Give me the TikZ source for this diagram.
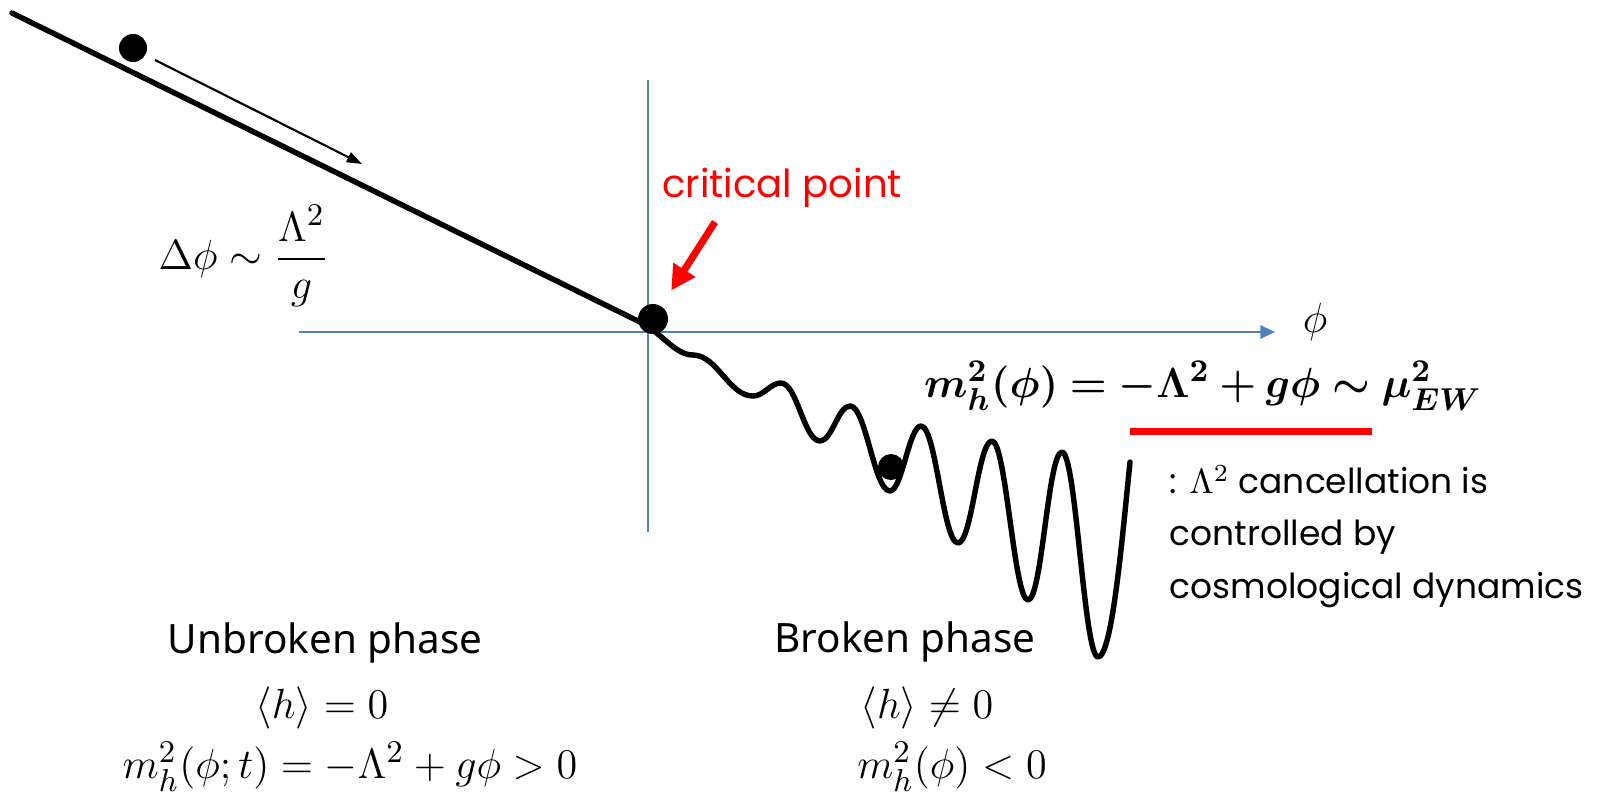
\documentclass[tikz,border=0pt]{standalone}
\usepackage[no-math]{fontspec}
\setmainfont{Noto Sans}
\newfontfamily\handfont{Poppins}
\usepackage{amsmath,bm}
\usetikzlibrary{arrows.meta}
\definecolor{axisblue}{RGB}{79,129,189}
\definecolor{critred}{RGB}{255,0,0}

\begin{document}
\begin{tikzpicture}[x=0.01cm,y=-0.01cm,
  pot/.style={line width=1.55pt,line join=round,line cap=round},
  ball/.style={circle,fill=black,inner sep=0pt,minimum size=#1},
  axis/.style={axisblue,line width=0.6pt},
  txt/.style={font=\fontsize{11.5}{14}\selectfont,inner sep=0pt},
  mathtxt/.style={font=\fontsize{12.5}{15}\selectfont,inner sep=0pt},
  hand/.style={font=\handfont\fontsize{11}{14.8}\selectfont,inner sep=0pt}]
\useasboundingbox (0,0) rectangle (1604,796);
% axes
\draw[axis,-{Triangle[length=4.2pt,width=3.8pt]}] (299,332) -- (1275,332);
\draw[axis] (648,80) -- (648,532);
\node[mathtxt] (phiLabel) at (1315,322) {$\phi$};
% potential: slope, then wiggles
\draw[pot] (12,13) -- (640,322)
  .. controls (662,333) and (675,355) .. (693,355)
  .. controls (717,355) and (729,396) .. (753,396)
  .. controls (764,396) and (770,383) .. (781,383)
  .. controls (797,383) and (804,441) .. (820,441)
  .. controls (832,441) and (838,406) .. (850,406)
  .. controls (866,406) and (874,491) .. (890,491)
  .. controls (902,491) and (909,426) .. (921,426)
  .. controls (936,426) and (943,543) .. (958,543)
  .. controls (972,543) and (978,441) .. (992,441)
  .. controls (1006,441) and (1014,600) .. (1028,600)
  .. controls (1042,600) and (1048,452) .. (1062,452)
  .. controls (1076,452) and (1084,657) .. (1098,657)
  .. controls (1112,657) and (1122,540) .. (1130,462);
% balls
\node[ball=0.28cm] (topBall) at (133,48) {};
\node[ball=0.3cm] (crit) at (653,319) {};
\node[ball=0.26cm] (trapBall) at (891,467) {};
% rolling arrow
\coordinate (rollStart) at (155,60);
\coordinate (rollEnd) at (362,164);
\draw[line width=0.6pt,-{Triangle[length=4.3pt,width=3pt]}] (rollStart) -- (rollEnd);
% critical point
\node[hand,critred,anchor=base] (critLabel) at (782,197) {critical point};
\coordinate (critTail) at (715,222);
\draw[critred,line width=2pt,-{Triangle[length=7pt,width=7pt]},shorten >=0.18cm] (critTail) -- (crit);
% field excursion
\node[font=\fontsize{13}{16}\selectfont,inner sep=0pt,anchor=west] (deltaPhi) at (158,256)
  {$\displaystyle \Delta\phi \sim \frac{\Lambda^2}{g}$};
% mass formula
\node[font=\fontsize{12.4}{15}\selectfont,inner sep=0pt,anchor=base] (massForm) at (1203,397)
  {$\bm{m_h^2(\phi) = -\Lambda^2 + g\phi \sim \mu_{EW}^2}$};
\coordinate (lineL) at (1130,431);
\coordinate (lineR) at (1372,431);
\draw[critred,line width=2pt] (lineL) -- (lineR);
% last line sets the base
\node[hand,font=\handfont\fontsize{9.8}{14.8}\selectfont,anchor=base west,align=left] (cancel) at (1169,598)
  {: $\Lambda^2$ cancellation is\\controlled by\\cosmological dynamics};
% phases
\node[txt,anchor=base] (unbroken) at (325,653) {Unbroken phase};
\node[mathtxt,anchor=base] (vevZero) at (322,718) {$\langle h\rangle = 0$};
\node[mathtxt,anchor=base] (massPos) at (350,778) {$m_h^2(\phi;t) = -\Lambda^2 + g\phi > 0$};
\node[txt,anchor=base] (broken) at (905,652) {Broken phase};
\node[mathtxt,anchor=base] (vevNonzero) at (927,718) {$\langle h\rangle \neq 0$};
\node[mathtxt,anchor=base] (massNeg) at (952,778) {$m_h^2(\phi) < 0$};
\end{tikzpicture}
\end{document}
